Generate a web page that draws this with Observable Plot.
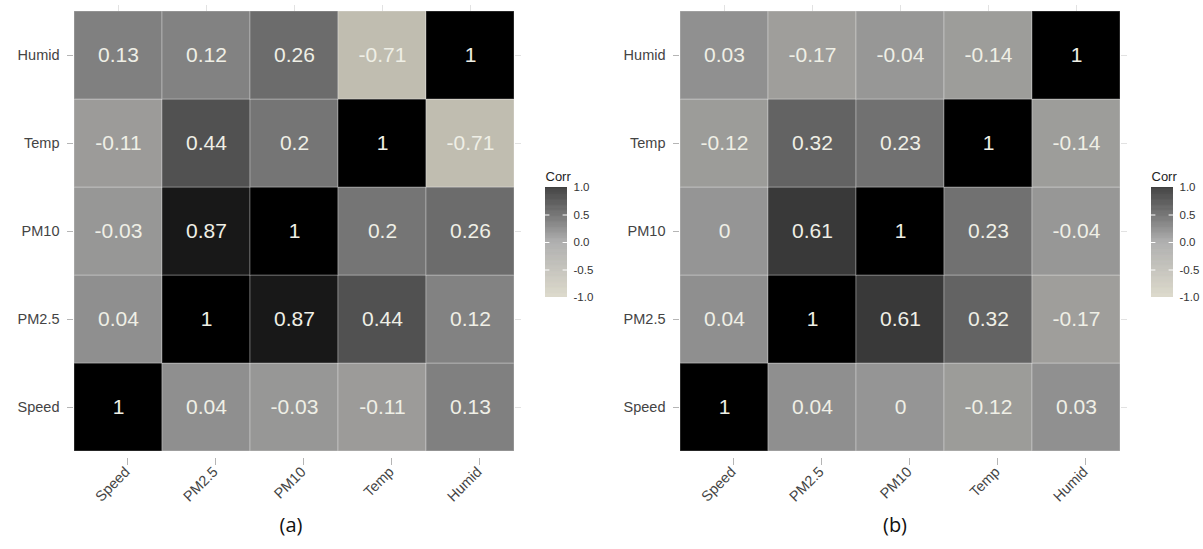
<!DOCTYPE html>
<html><head><meta charset="utf-8">
<script src="https://cdn.jsdelivr.net/npm/d3@7"></script>
<script src="https://cdn.jsdelivr.net/npm/@observablehq/plot@0.6"></script>
<style>
body{margin:0;background:#fff;}
#wrap{position:relative;width:1203px;height:549px;overflow:hidden;}
.abs{position:absolute;}
.cap{position:absolute;font-family:"Open Sans",sans-serif;font-size:20px;color:#111;transform:translateX(-50%);line-height:1;}
</style></head><body><div id="wrap"></div>
<script>
const vars = ["Speed", "PM2.5", "PM10", "Temp", "Humid"];
const corrA = [
  [1, 0.04, -0.03, -0.11, 0.13],
  [0.04, 1, 0.87, 0.44, 0.12],
  [-0.03, 0.87, 1, 0.2, 0.26],
  [-0.11, 0.44, 0.2, 1, -0.71],
  [0.13, 0.12, 0.26, -0.71, 1]
];
const corrB = [
  [1, 0.04, 0, -0.12, 0.03],
  [0.04, 1, 0.61, 0.32, -0.17],
  [0, 0.61, 1, 0.23, -0.04],
  [-0.12, 0.32, 0.23, 1, -0.14],
  [0.03, -0.17, -0.04, -0.14, 1]
];
const legendTicks = [1, 0.5, 0, -0.5, -1];
const legendTitle = "Corr";
const captions = ["(a)", "(b)"];

const colorOpts = {type: "linear", domain: [-1, 0, 1], range: ["#d2cebb", "#959595", "#000000"], interpolate: "lab"};
const font = "Liberation Sans, Arial, sans-serif";

function cells(m) {
  const out = [];
  vars.forEach((r, i) => vars.forEach((c, j) => out.push({row: r, col: c, v: m[i][j]})));
  return out;
}

function heat(m) {
  const data = cells(m);
  return Plot.plot({
    width: 524, height: 509,
    marginLeft: 73, marginRight: 10, marginTop: 10, marginBottom: 58,
    style: {fontFamily: font, fontSize: "14.5px", background: "transparent", color: "#4d4d4d"},
    x: {domain: vars, padding: 0, label: null},
    y: {domain: [...vars].reverse(), padding: 0, label: null},
    color: colorOpts,
    marks: [
      Plot.cell(data, {x: "col", y: "row", fill: "v", stroke: "#ffffff", strokeOpacity: 0.3, strokeWidth: 1}),
      Plot.text(data, {x: "col", y: "row", text: d => String(d.v), fill: "#efefe6", fontSize: 21}),
      Plot.axisX({tickRotate: -45, tickSize: 7, tickPadding: 4, dx: 9, dy: 7, stroke: "#b5b5b5", fill: "#444", label: null}),
      Plot.axisY({tickSize: 6, tickPadding: 8, stroke: "#b5b5b5", fill: "#444", label: null}),
      Plot.axisX({anchor: "top", tickSize: 6, tickFormat: () => "", stroke: "#e2e2e2", label: null}),
      Plot.axisY({anchor: "right", tickSize: 6, tickFormat: () => "", stroke: "#e2e2e2", label: null})
    ]
  });
}

function legend() {
  const ramp = d3.range(-1, 1, 0.01).map(v => ({v0: v, v1: Math.min(1, v + 0.0101)}));
  const inner = legendTicks.filter(t => Math.abs(t) < 1);
  return Plot.plot({
    width: 62, height: 137,
    marginLeft: 5, marginRight: 35, marginTop: 17, marginBottom: 10,
    style: {fontFamily: font, background: "transparent", color: "#333"},
    x: {domain: [0, 1], axis: null},
    y: {domain: [-1, 1], axis: null},
    color: colorOpts,
    marks: [
      Plot.rect(ramp, {x1: 0, x2: 1, y1: "v0", y2: "v1", fill: "v0"}),
      Plot.ruleY(inner, {x1: 0, x2: 0.2, stroke: "#ffffff", strokeWidth: 1}),
      Plot.ruleY(inner, {x1: 0.8, x2: 1, stroke: "#ffffff", strokeWidth: 1}),
      Plot.text(legendTicks, {x: 1, y: d => d, text: d => d.toFixed(1), dx: 6, textAnchor: "start", fontSize: 11.5, fill: "#333"}),
      Plot.text([legendTitle], {frameAnchor: "top-left", dy: -16, textAnchor: "start", fontSize: 13, fill: "#222"})
    ]
  });
}

const wrap = document.getElementById("wrap");
function place(el, left, top) { el.classList.add("abs"); el.style.left = left + "px"; el.style.top = top + "px"; wrap.appendChild(el); }

place(heat(corrA), 0, 0);
place(heat(corrB), 606, 0);
place(legend(), 540, 170);
place(legend(), 1146, 170);

[[captions[0], 291], [captions[1], 895]].forEach(([t, x]) => {
  const d = document.createElement("div");
  d.className = "cap"; d.textContent = t; d.style.left = x + "px"; d.style.top = "515px";
  wrap.appendChild(d);
});
</script></body></html>
